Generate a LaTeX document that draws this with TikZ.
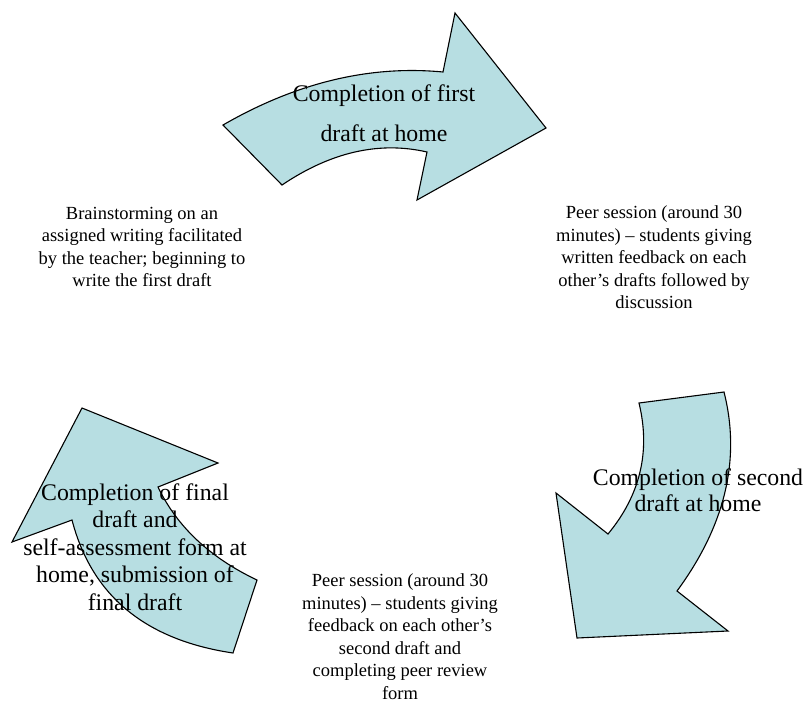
\documentclass[tikz,border=0pt]{standalone}
\usepackage{fontspec}
\setmainfont{Liberation Serif}
\definecolor{arrowfill}{RGB}{183,222,226}
\begin{document}
\begin{tikzpicture}[x=1pt,y=-1pt,
  bigarrow/.style={draw=black,fill=arrowfill,line width=1.1pt,line join=miter},
  smalltext/.style={align=center,inner sep=0pt,font=\fontsize{18.5}{22.5}\selectfont},
  arrowtext/.style={align=center,inner sep=0pt,font=\fontsize{23.8}{26}\selectfont}]
\useasboundingbox (0,0) rectangle (806,702);
% top arrow
\draw[bigarrow] (223,125) .. controls (296.3,82.7) and (369.7,65) .. (443,72)
  -- (455,13) -- (546,128) -- (417,200) -- (427,152)
  .. controls (379.3,141) and (331,152) .. (282,185) -- cycle;
% right arrow
\draw[bigarrow] (639,403) -- (724,392)
  .. controls (741,459) and (725.3,525.3) .. (677,591)
  -- (728,631) -- (577,638) -- (556,493) -- (608,534)
  .. controls (640.3,495) and (650.7,451.3) .. (639,403) -- cycle;
% left arrow
\draw[bigarrow] (233,653) .. controls (145.3,640) and (91.7,595.7) .. (72,520)
  -- (12,542) -- (82,408) -- (218,463) -- (158,487)
  .. controls (177,526.7) and (210,557.7) .. (257,580) -- cycle;
% texts
\node[arrowtext,font=\fontsize{23.8}{40}\selectfont] (t1) at (384,113) {Completion of first\\draft at home};
\node[smalltext] (s1) at (142,247) {Brainstorming on an\\assigned writing facilitated\\by the teacher; beginning to\\write the first draft};
\node[smalltext] (s2) at (654,257.5) {Peer session (around 30\\minutes) – students giving\\written feedback on each\\other’s drafts followed by\\discussion};
\node[arrowtext] (t2) at (698,490) {Completion of second\\draft at home};
\node[smalltext] (s3) at (400,636.5) {Peer session (around 30\\minutes) – students giving\\feedback on each other’s\\second draft and\\completing peer review\\form};
\node[arrowtext,font=\fontsize{23.8}{27.5}\selectfont] (t3) at (135,547) {Completion of final\\draft and\\self-assessment form at\\home, submission of\\final draft};
\end{tikzpicture}
\end{document}
